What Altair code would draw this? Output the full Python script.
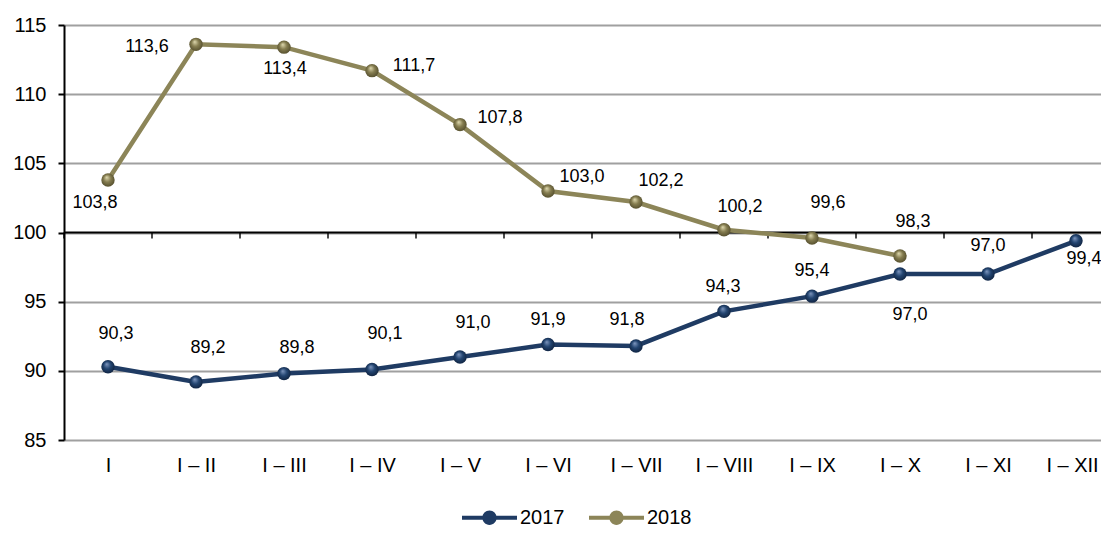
import json
import altair as alt
import pandas as pd

# ---------------- data ----------------
categories = ["I", "I – II", "I – III", "I – IV", "I – V", "I – VI",
              "I – VII", "I – VIII", "I – IX", "I – X", "I – XI", "I – XII"]
values_2017 = [90.3, 89.2, 89.8, 90.1, 91.0, 91.9, 91.8, 94.3, 95.4, 97.0, 97.0, 99.4]
values_2018 = [103.8, 113.6, 113.4, 111.7, 107.8, 103.0, 102.2, 100.2, 99.6, 98.3]
series_names = ["2017", "2018"]
y_ticks = [85, 90, 95, 100, 105, 110, 115]

# ---------------- style ----------------
series_colors = ["#1f3b63", "#8c8558"]
FONT = "Liberation Sans"
STEP = 88          # px per category
PLOT_W = 1037
PLOT_H = 415
# (dx, dy) pixel offsets of each value label from its point
label_offsets_2017 = [(8, -33), (12, -34), (13, -26), (13, -35), (13, -34), (0, -25),
                      (-9, -26), (-1, -24), (0, -25), (10, 41), (0, -28), (8, 18)]
label_offsets_2018 = [(-13, 23), (-49, 3), (1, 22), (42, -5), (40, -7), (34, -14),
                      (25, -21), (16, -23), (16, -35), (13, -34)]

rows = []
for s, vals in zip(series_names, [values_2017, values_2018]):
    for i, v in enumerate(vals):
        rows.append({"series": s, "idx": i, "pos": i + 0.5, "value": v,
                     "label": f"{v:.1f}".replace(".", ",")})
df = pd.DataFrame(rows)
ticks_df = pd.DataFrame({"pos": list(range(len(categories))), "value": [100] * len(categories)})
rule_df = pd.DataFrame({"value": [100]})

label_expr = json.dumps(categories, ensure_ascii=False) + "[floor(datum.value)]"

X_ENC = alt.X(
    "pos:Q",
    scale=alt.Scale(domain=[0, PLOT_W / STEP], nice=False, zero=False),
    axis=alt.Axis(values=[i + 0.5 for i in range(len(categories))], labelExpr=label_expr,
                  title=None, grid=False, ticks=False, domain=False,
                  labelFontSize=20, labelFont=FONT, labelColor="black", labelPadding=15,
                  labelOffset={"condition": {"test": "datum.value > 11", "value": -4},
                               "value": 0}),
)
Y_ENC = alt.Y(
    "value:Q",
    scale=alt.Scale(domain=[85, 115], nice=False, zero=False),
    axis=alt.Axis(values=y_ticks, title=None, grid=True, gridColor="#a0a0a0", gridWidth=2,
                  domainColor="black", domainWidth=2, tickColor="black", tickWidth=2,
                  tickSize=6, labelFontSize=20, labelFont=FONT, labelColor="black",
                  labelPadding=12),
)

legend_path = ("M-1,-0.075H1V0.075H-1Z "
               "M0.26,0A0.26,0.26,0,1,1,-0.26,0A0.26,0.26,0,1,1,0.26,0Z")

layers = []

# category axis line at 100
layers.append(alt.Chart(rule_df).mark_rule(color="black", strokeWidth=2).encode(y=Y_ENC))
layers.append(
    alt.Chart(ticks_df).mark_tick(orient="vertical", size=6, thickness=2, color="black", yOffset=3)
    .encode(x=X_ENC, y=Y_ENC)
)

# lines
for s, c in zip(series_names, series_colors):
    layers.append(
        alt.Chart(df).transform_filter(alt.datum.series == s)
        .mark_line(strokeWidth=4.5, color=c)
        .encode(x=X_ENC, y=Y_ENC)
    )

# legend source (no visible marks; domain fixed)
layers.append(
    alt.Chart(df).transform_filter("false")
    .mark_point(filled=True, shape=legend_path, size=3025, opacity=1)
    .encode(
        x=X_ENC, y=Y_ENC,
        color=alt.Color("series:N",
                        scale=alt.Scale(domain=series_names, range=series_colors),
                        legend=alt.Legend(
                            title=None, orient="none", legendX=398, legendY=465,
                            direction="horizontal", symbolType=legend_path, symbolSize=3025,
                            symbolStrokeWidth=0, symbolOpacity=1, labelFontSize=20,
                            labelFont=FONT, labelColor="black", labelOffset=3,
                            columnPadding=24, padding=0,
                        )),
    )
)

# sphere-like points
gradients = {
    "2017": ["#7f97bf", "#234571", "#0c1c36"],
    "2018": ["#e0dab0", "#857d50", "#4a4426"],
}
for s in series_names:
    g = gradients[s]
    grad = alt.RadialGradient(
        gradient="radial",
        stops=[alt.GradientStop(offset=0, color=g[0]),
               alt.GradientStop(offset=0.45, color=g[1]),
               alt.GradientStop(offset=1, color=g[2])],
        x1=0.4, y1=0.3, r1=0, x2=0.5, y2=0.5, r2=0.6,
    )
    layers.append(
        alt.Chart(df).transform_filter(alt.datum.series == s)
        .mark_point(shape="circle", filled=True, size=180, color=grad, opacity=1)
        .encode(x=X_ENC, y=Y_ENC)
    )

# value labels
for s, offs in zip(series_names, [label_offsets_2017, label_offsets_2018]):
    for i, (dx, dy) in enumerate(offs):
        layers.append(
            alt.Chart(df)
            .transform_filter((alt.datum.series == s) & (alt.datum.idx == i))
            .mark_text(dx=dx, dy=dy, fontSize=18, font=FONT, color="black",
                       align="center", baseline="middle")
            .encode(x=X_ENC, y=Y_ENC, text="label:N")
        )

chart = (
    alt.layer(*layers)
    .properties(width=PLOT_W, height=PLOT_H,
                autosize=alt.AutoSizeParams(type="none"),
                padding={"left": 56, "top": 17, "right": 0, "bottom": 89})
    .configure_view(stroke=None)
)

chart.save("out.html", embed_options={"renderer": "svg", "actions": False})
